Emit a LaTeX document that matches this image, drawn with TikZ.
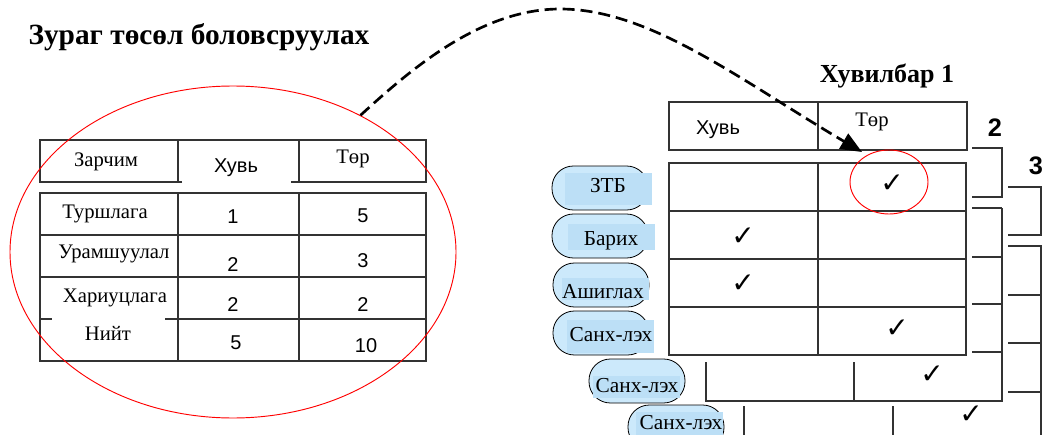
\documentclass[tikz,border=0pt]{standalone}
\usepackage{fontspec}
\setmainfont{Liberation Serif}
\setsansfont{Liberation Sans}
\newfontfamily\chkfont{DejaVu Sans}
\usetikzlibrary{arrows.meta,shapes.geometric}

\definecolor{pillblue}{HTML}{CCE9FB}
\definecolor{hlblue}{HTML}{BCDFF6}
\definecolor{rulegray}{HTML}{333333}

\tikzset{
  tabline/.style={draw=rulegray, line width=0.9pt},
  ring/.style={draw=red, line width=0.7pt, ellipse, inner sep=0pt},
  txt/.style={inner sep=0pt, anchor=base, font=\fontsize{15.5pt}{17pt}\selectfont},
  num/.style={txt, font=\sffamily\fontsize{15pt}{17pt}\selectfont},
  head/.style={txt, font=\bfseries\fontsize{19.5pt}{21pt}\selectfont},
  layer/.style={inner sep=0pt, font=\sffamily\bfseries\fontsize{19pt}{21pt}\selectfont},
  chk/.style={inner sep=0pt, font=\chkfont\fontsize{21pt}{23pt}\selectfont},
  pill/.style={draw=black, line width=0.6pt, fill=pillblue, rounded corners=16pt,
    minimum width=72pt, minimum height=33pt, inner sep=0pt},
  pilltxt/.style={txt, font=\fontsize{16pt}{18pt}\selectfont},
  flow/.style={line width=2pt, dash pattern=on 9pt off 4.5pt,
    -{Triangle[length=16pt,width=13pt]}}
}

\begin{document}
\begin{tikzpicture}[x=0.75pt,y=-0.75pt]
\useasboundingbox (0,0) rectangle (1042,435);

\node[head, font=\bfseries\fontsize{22pt}{24pt}\selectfont] (title) at (199,45) {Зураг төсөл боловсруулах};

% left table
\draw[tabline] (182,182) -- (40,182) -- (40,140) -- (426,140) -- (426,182) -- (291,182);
\draw[tabline] (178,140) -- (178,182) (299,140) -- (299,182);
\draw[tabline] (40,193) rectangle (426,361);
\draw[tabline] (40,235) -- (426,235) (40,277) -- (426,277)
  (40,319) -- (52,319) (165,319) -- (426,319);
\draw[tabline] (178,193) -- (178,361) (299,193) -- (299,361);

\node[txt] (lZar) at (106,166) {Зарчим};
\node[num] (lHuv) at (236,172) {Хувь};
\node[txt] (lTor) at (353,163) {Төр};
\node[txt] (lTur) at (105,218) {Туршлага};
\node[num] (lTurH) at (233,223) {1};
\node[num] (lTurT) at (363,222) {5};
\node[txt] (lUra) at (114,258) {Урамшуулал};
\node[num] (lUraH) at (233,271) {2};
\node[num] (lUraT) at (363,267) {3};
\node[txt] (lHar) at (115,302) {Хариуцлага};
\node[num] (lHarH) at (233,311) {2};
\node[num] (lHarT) at (363,311) {2};
\node[txt] (lNii) at (108,340) {Нийт};
\node[num] (lNiiH) at (236,349) {5};
\node[num] (lNiiT) at (366,352) {10};

\node[ring, minimum width=334.5pt, minimum height=249pt] (oval) at (233,252) {};

% right table
\node[head] (ver) at (887,83) {Хувилбар 1};
\draw[tabline] (669,102) rectangle (967,150) (818,102) -- (818,150);
\draw[tabline] (669,163) rectangle (966,355) (818,163) -- (818,355);
\foreach \y in {211,259,307}
  \draw[tabline] (669,\y) -- (966,\y);
\node[num] (rHuv) at (718,134) {Хувь};
\node[txt] (rTor) at (872,127) {Төр};

% stacked copies
\draw[tabline] (706,362) -- (706,401) -- (1002,401) -- (1002,208);
\draw[tabline] (854,362) -- (854,401);
\draw[tabline] (972,148) -- (1002,148) -- (1002,197) -- (972,197);
\foreach \y in {208,257,304,352}
  \draw[tabline] (972,\y) -- (1002,\y);
\draw[tabline] (744,406) -- (744,440) (893,406) -- (893,440);
\draw[tabline] (1008,187) -- (1041,187) -- (1041,235) -- (1008,235);
\draw[tabline] (1008,246) -- (1041,246) -- (1041,440);
\foreach \y in {295,343,392}
  \draw[tabline] (1008,\y) -- (1041,\y);
\node[layer] (two) at (995,128) {2};
\node[layer] (three) at (1036,166) {3};

% row labels
\foreach \nm/\px/\py/\hx/\hy/\hh/\tx/\ty/\t in {
  ztb/600/188/608/189/32/608/192/ЗТБ,
  barih/600/236/611/237/26/611/245/Барих,
  ashig/601/285/605/289/22/603/298/Ашиглах,
  sankh/601/333/610/336/33/611/341/Санх-лэх,
  sankhb/637/381/636/387/22/637/392/Санх-лэх,
  sankhc/676/427/679/424/24/681/429/Санх-лэх}
{
  \node[pill] (\nm) at (\px,\py) {};
  \fill[hlblue] (\hx-43.5,\hy-\hh/2) rectangle (\hx+43.5,\hy+\hh/2);
  \node[pilltxt] (\nm-t) at (\tx,\ty) {\t};
}

% ticks
\node[chk] (c1) at (892,184) {✓};
\node[chk] (c2) at (743,237) {✓};
\node[chk] (c3) at (743,284) {✓};
\node[chk] (c4) at (897,329) {✓};
\node[chk] (c5) at (932,375) {✓};
\node[chk] (c6) at (971,415) {✓};
\node[ring, minimum width=58.5pt, minimum height=48pt] (pick) at (889,182) {};

% arrow
\coordinate (arcTop) at (560,9);
\coordinate (arrTip) at (862,152);
\draw[flow] (oval.47) .. controls (410,70) and (480,9) .. (arcTop)
  .. controls (650,9) and (740,80) .. (arrTip);
\end{tikzpicture}
\end{document}
